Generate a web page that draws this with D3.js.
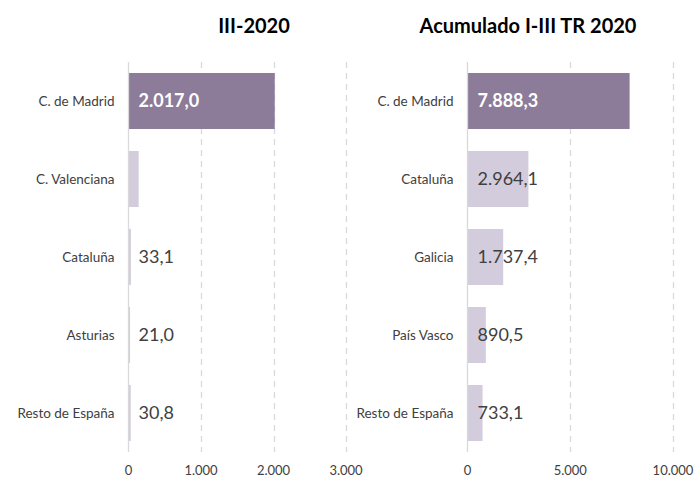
<!DOCTYPE html>
<html>
<head>
<meta charset="utf-8">
<script src="https://cdn.jsdelivr.net/npm/d3@7"></script>
<style>
  body { margin: 0; background: #fff; }
  svg { display: block; font-family: Lato, 'Open Sans', sans-serif; }
</style>
</head>
<body>
<svg id="chart" width="696" height="478"></svg>
<script>
'use strict';

////////// DATA //////////
const leftTitle = 'III-2020';
const leftCategories = ['C. de Madrid', 'C. Valenciana', 'Cataluña', 'Asturias', 'Resto de España'];
const leftValues = [2017.0, 140, 33.1, 21.0, 30.8];
const leftLabels = ['2.017,0', '', '33,1', '21,0', '30,8'];
const leftTicks = [0, 1000, 2000, 3000];

const rightTitle = 'Acumulado I-III TR 2020';
const rightCategories = ['C. de Madrid', 'Cataluña', 'Galicia', 'País Vasco', 'Resto de España'];
const rightValues = [7888.3, 2964.1, 1737.4, 890.5, 733.1];
const rightLabels = ['7.888,3', '2.964,1', '1.737,4', '890,5', '733,1'];
const rightTicks = [0, 5000, 10000];

////////// STYLE //////////
const darkBar = '#8c7b99';
const lightBar = '#d3ccdc';
const textColor = '#404040';
const gridColor = '#d9d9d9';
const plotTop = 62;
const plotBottom = 452;

const fmt = d3.formatLocale({ decimal: ',', thousands: '.', grouping: [3] }).format(',d');

const svg = d3.select('#chart');

const drawPanel = (opts) => {
	const x = d3.scaleLinear().domain([0, opts.ticks[opts.ticks.length - 1]]).range([opts.x0, opts.x1]);
	const y = d3.scaleBand().domain(opts.categories).range([plotTop, plotBottom])
		.paddingInner(0.282).paddingOuter(0.141);

	const g = svg.append('g').attr('class', 'panel');

	// title
	g.append('text')
		.attr('x', opts.titleX).attr('y', 33)
		.attr('text-anchor', 'middle')
		.style('font-weight', 'bold').style('font-size', '20px')
		.attr('fill', '#000')
		.text(opts.title);

	// dashed gridlines (skip 0, that one is the axis line)
	g.append('g').selectAll('line')
		.data(opts.ticks.filter(t => t > 0))
		.join('line')
		.attr('x1', d => Math.round(x(d)) + 0.5).attr('x2', d => Math.round(x(d)) + 0.5)
		.attr('y1', plotTop).attr('y2', plotBottom)
		.attr('stroke', gridColor).attr('stroke-width', 1.3)
		.attr('stroke-dasharray', '6,5');

	// bars
	g.append('g').selectAll('rect')
		.data(opts.values)
		.join('rect')
		.attr('x', x(0))
		.attr('y', (d, i) => y(opts.categories[i]))
		.attr('width', d => x(d) - x(0))
		.attr('height', y.bandwidth())
		.attr('fill', (d, i) => i === 0 ? darkBar : lightBar);

	// axis line
	g.append('line')
		.attr('x1', x(0)).attr('x2', x(0))
		.attr('y1', plotTop).attr('y2', plotBottom)
		.attr('stroke', gridColor).attr('stroke-width', 1.3);

	// category labels
	g.append('g').selectAll('text')
		.data(opts.categories)
		.join('text')
		.attr('x', x(0) - 14)
		.attr('y', d => y(d) + y.bandwidth() / 2)
		.attr('dy', '0.35em')
		.attr('text-anchor', 'end')
		.style('font-size', '13.5px')
		.attr('fill', textColor)
		.text(d => d);

	// value labels
	g.append('g').selectAll('text')
		.data(opts.labels)
		.join('text')
		.attr('x', x(0) + 10)
		.attr('y', (d, i) => y(opts.categories[i]) + y.bandwidth() / 2)
		.attr('dy', '0.36em')
		.style('font-size', '18px')
		.style('font-weight', (d, i) => i === 0 ? 'bold' : 'normal')
		.attr('fill', (d, i) => i === 0 ? '#fff' : textColor)
		.text(d => d);

	// x tick labels
	g.append('g').selectAll('text')
		.data(opts.ticks)
		.join('text')
		.attr('x', d => x(d))
		.attr('y', 475)
		.attr('text-anchor', 'middle')
		.style('font-size', '13px')
		.attr('fill', textColor)
		.text(d => fmt(d));
};

drawPanel({ title: leftTitle, categories: leftCategories, values: leftValues, labels: leftLabels, ticks: leftTicks, x0: 128.5, x1: 346, titleX: 254 });
drawPanel({ title: rightTitle, categories: rightCategories, values: rightValues, labels: rightLabels, ticks: rightTicks, x0: 467.5, x1: 673, titleX: 528 });
</script>
</body>
</html>
